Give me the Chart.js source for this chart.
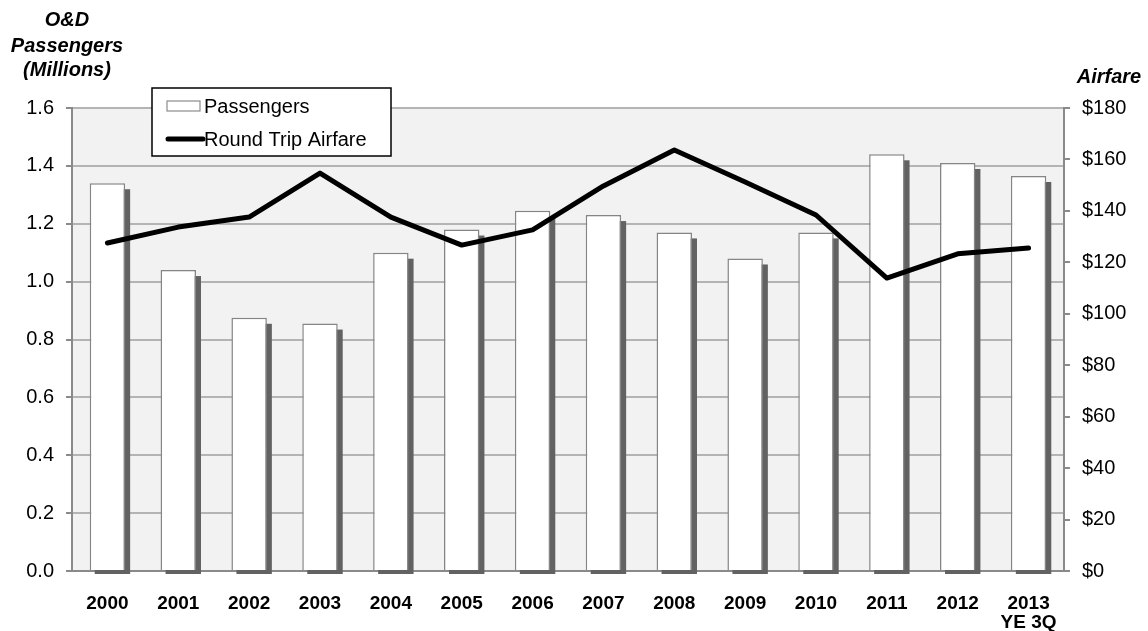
<!DOCTYPE html>
<html>
<head>
<meta charset="utf-8">
<script src="https://cdn.jsdelivr.net/npm/chart.js@4"></script>
<style>
  html, body { margin: 0; padding: 0; background: #fff; }
  #wrap { width: 1148px; height: 631px; position: relative; }
</style>
</head>
<body>
<div id="wrap"><canvas id="chart" width="1148" height="631"></canvas></div>
<script>
// data
let years = ["2000", "2001", "2002", "2003", "2004", "2005", "2006", "2007", "2008", "2009", "2010", "2011", "2012", ["2013", "YE 3Q"]];
let passengers = [1.34, 1.04, 0.875, 0.855, 1.10, 1.18, 1.245, 1.23, 1.17, 1.08, 1.17, 1.44, 1.41, 1.365];
let airfare = [127.5, 133.7, 137.6, 154.7, 137.6, 126.7, 132.6, 149.7, 163.7, 151.2, 138.4, 113.9, 123.3, 125.6];
let leftTicks = [0, 0.2, 0.4, 0.6, 0.8, 1.0, 1.2, 1.4, 1.6];

const GRID = "#b4b4b4";
const AXIS = "#8a8a8a";

// plot background + bar shadows
const backdrop = {
    id: "backdrop",
    beforeDraw(chart) {
        let a = chart.chartArea;
        let ctx = chart.ctx;
        ctx.save();
        ctx.fillStyle = "#f2f2f2";
        ctx.fillRect(a.left, a.top, a.right - a.left, a.bottom - a.top);
        ctx.restore();
    },
    beforeDatasetsDraw(chart) {
        let ctx = chart.ctx;
        let bars = chart.getDatasetMeta(0).data;
        ctx.save();
        ctx.fillStyle = "#626262";
        bars.forEach((b) => {
            let w = b.width;
            ctx.fillRect(b.x - w / 2 + 5, b.y + 6, w, b.base - b.y - 2);
        });
        ctx.restore();
    }
};

// titles and boxed legend
const extras = {
    id: "extras",
    afterDraw(chart) {
        let ctx = chart.ctx;
        ctx.save();
        ctx.fillStyle = "#000";
        ctx.font = "italic bold 20px 'Liberation Sans', Arial, sans-serif";
        ctx.textAlign = "center";
        ctx.textBaseline = "alphabetic";
        ctx.fillText("O&D", 67, 26);
        ctx.fillText("Passengers", 67, 52);
        ctx.fillText("(Millions)", 67, 76);
        ctx.fillText("Airfare", 1109, 83);

        // legend box
        ctx.fillStyle = "#fff";
        ctx.fillRect(152, 88, 239, 68);
        ctx.strokeStyle = "#000";
        ctx.lineWidth = 1.5;
        ctx.strokeRect(152, 88, 239, 68);

        let ds = chart.data.datasets;
        ctx.fillStyle = "#fff";
        ctx.fillRect(167, 101, 33, 10);
        ctx.strokeStyle = "#8c8c8c";
        ctx.lineWidth = 1.2;
        ctx.strokeRect(167, 101, 33, 10);

        ctx.strokeStyle = "#000";
        ctx.lineWidth = 5;
        ctx.lineCap = "round";
        ctx.beginPath();
        ctx.moveTo(168, 139);
        ctx.lineTo(203, 139);
        ctx.stroke();

        ctx.fillStyle = "#000";
        ctx.font = "20px 'Liberation Sans', Arial, sans-serif";
        ctx.textAlign = "left";
        ctx.fillText(ds[0].label, 204, 113);
        ctx.fillText(ds[1].label, 204, 146);
        ctx.restore();
    }
};

new Chart(document.getElementById("chart"), {
    type: "bar",
    data: {
        labels: years,
        datasets: [{
            type: "bar",
            label: "Passengers",
            data: passengers,
            yAxisID: "y",
            backgroundColor: "#ffffff",
            borderColor: "#858585",
            borderWidth: 1.5,
            barPercentage: 1.0,
            categoryPercentage: 0.5,
            order: 1
        }, {
            type: "line",
            label: "Round Trip Airfare",
            data: airfare,
            yAxisID: "y2",
            borderColor: "#000000",
            borderWidth: 5,
            pointRadius: 0,
            tension: 0,
            borderJoinStyle: "round",
            borderCapStyle: "round",
            order: 0
        }]
    },
    options: {
        responsive: false,
        animation: false,
        devicePixelRatio: 1,
        layout: { padding: { top: 108 } },
        plugins: {
            legend: { display: false },
            tooltip: { enabled: false }
        },
        scales: {
            x: {
                grid: { display: false, drawTicks: false },
                border: { color: AXIS, width: 2 },
                ticks: {
                    color: "#000",
                    padding: 23,
                    maxRotation: 0,
                    font: { family: "'Liberation Sans', Arial, sans-serif", size: 19, weight: "bold", lineHeight: 1.0 }
                },
                afterFit: (s) => { s.height = 60; }
            },
            y: {
                position: "left",
                min: 0,
                max: 1.6,
                afterBuildTicks: (s) => { s.ticks = leftTicks.map((v) => ({ value: v })); },
                grid: { color: GRID, lineWidth: 2, tickLength: 6, tickColor: AXIS },
                border: { color: AXIS, width: 2 },
                ticks: {
                    color: "#000",
                    padding: 12,
                    callback: (v) => Number(v).toFixed(1),
                    font: { family: "'Liberation Sans', Arial, sans-serif", size: 20 }
                },
                afterFit: (s) => { s.width = 72; }
            },
            y2: {
                position: "right",
                min: 0,
                max: 180,
                grid: { drawOnChartArea: false, tickLength: 6, color: AXIS, lineWidth: 2 },
                border: { color: AXIS, width: 2 },
                ticks: {
                    stepSize: 20,
                    color: "#000",
                    padding: 12,
                    callback: (v) => "$" + v,
                    font: { family: "'Liberation Sans', Arial, sans-serif", size: 20 }
                },
                afterFit: (s) => { s.width = 84; }
            }
        }
    },
    plugins: [backdrop, extras]
});
</script>
</body>
</html>
